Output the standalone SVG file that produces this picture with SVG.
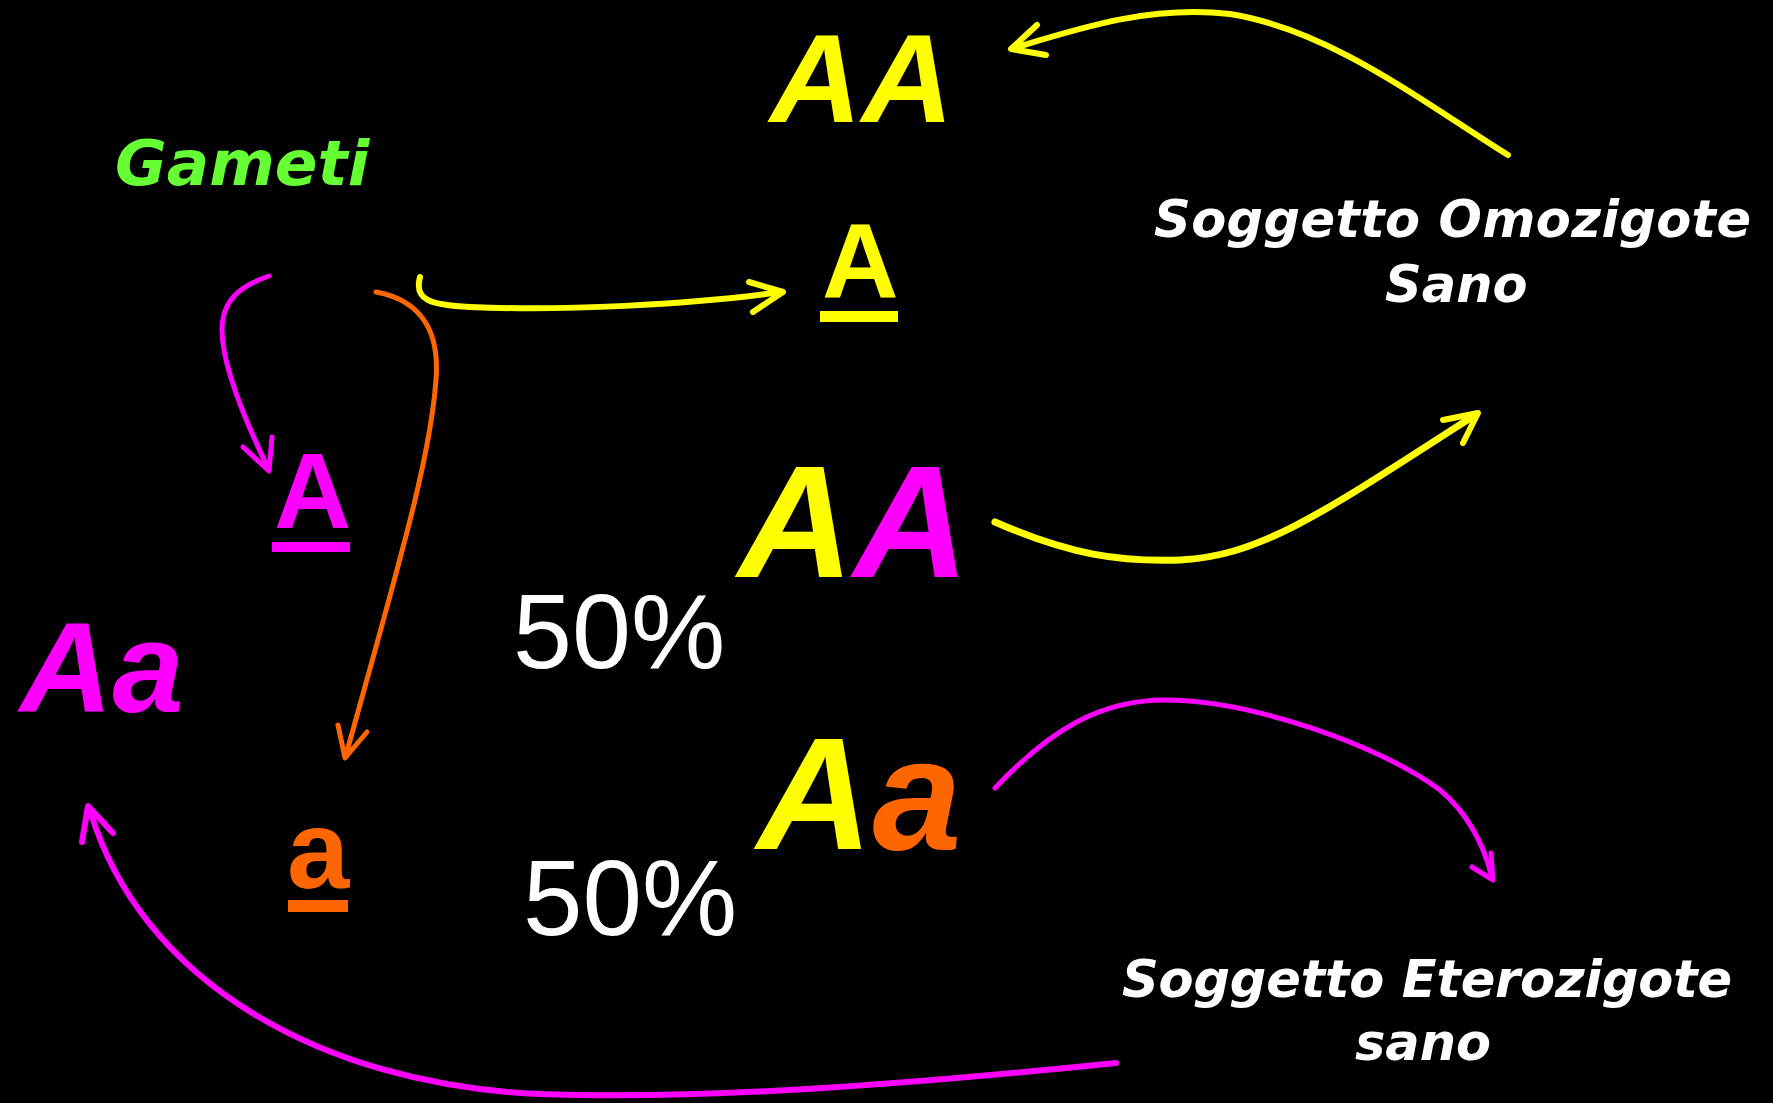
<svg xmlns="http://www.w3.org/2000/svg" width="1773" height="1103" viewBox="0 0 1773 1103">
<style>
.big{font-family:"Liberation Sans",Arial,sans-serif;font-weight:bold;font-style:italic}
.up{font-family:"Liberation Sans",Arial,sans-serif;font-weight:bold}
.pct{font-family:"Liberation Sans",Arial,sans-serif;fill:#FFFFFF}
.lbl{font-family:"DejaVu Sans",Verdana,sans-serif;font-weight:bold;font-style:italic;fill:#FFFFFF}
.y{fill:#FFFF00}.m{fill:#FF00FF}.o{fill:#FF6600}
.c{fill:none;stroke-linecap:round;stroke-linejoin:round}
.cy{stroke:#FFFF00}.cm{stroke:#FF00FF}.co{stroke:#FF6600}
</style>
<rect width="1773" height="1103" fill="#000000"/>
<g id="gameti"><text x="115" y="185" font-family="DejaVu Sans, Verdana, sans-serif" font-weight="bold" font-style="italic" font-size="63" fill="#66FF33">Gameti</text></g>
<g id="AA-top"><text class="big y" x="770" y="122" font-size="127">AA</text></g>
<g id="A-yellow"><text class="up y" x="822" y="298" font-size="106">A</text><rect class="y" x="820" y="311" width="78" height="11"/></g>
<g id="A-magenta"><text class="up m" x="274" y="528" font-size="107">A</text><rect class="m" x="272" y="542" width="78" height="10"/></g>
<g id="a-orange"><text class="up o" x="287" y="888" font-size="112">a</text><rect class="o" x="288" y="900" width="60" height="12"/></g>
<g id="Aa-parent"><text class="big m" x="20" y="712" font-size="128">Aa</text></g>
<g id="AA-child"><text class="big" x="738" y="577" font-size="160"><tspan class="y">A</tspan><tspan class="m">A</tspan></text></g>
<g id="Aa-child"><text class="big" x="757" y="849" font-size="160"><tspan class="y">A</tspan><tspan class="o">a</tspan></text></g>
<g id="pct-1"><text class="pct" x="513" y="668" font-size="106">50%</text></g>
<g id="pct-2"><text class="pct" x="523" y="935" font-size="107">50%</text></g>
<g id="label-omo"><text class="lbl" font-size="51"><tspan x="1154" y="237" textLength="597" lengthAdjust="spacing">Soggetto Omozigote</tspan><tspan x="1385" y="302">Sano</tspan></text></g>
<g id="label-etero"><text class="lbl" font-size="51"><tspan x="1122" y="997" textLength="610" lengthAdjust="spacing">Soggetto Eterozigote</tspan><tspan x="1355" y="1060">sano</tspan></text></g>
<g id="connectors">
<path class="c cy" stroke-width="6" d="M420,277 C414,300 430,305 470,307 C560,311 690,305 781,292"/>
<polyline class="c cy" stroke-width="6" points="749,282 783,292 753,312"/>
<path class="c cm" stroke-width="5" d="M269,276 C240,286 222,300 222,330 C222,360 240,410 268,468"/>
<polyline class="c cm" stroke-width="5" points="243,447 269,471 272,437"/>
<path class="c co" stroke-width="5" d="M376,292 C420,300 440,330 436,380 C430,460 400,560 346,755"/>
<polyline class="c co" stroke-width="5" points="338,725 345,758 367,732"/>
<path class="c cy" stroke-width="6" d="M1508,155 C1420,100 1330,30 1230,14 C1150,5 1080,28 1014,48"/>
<polyline class="c cy" stroke-width="6" points="1037,25 1011,49 1046,55"/>
<path class="c cy" stroke-width="7" d="M995,522 C1070,555 1120,562 1180,560 C1260,556 1320,515 1475,415"/>
<polyline class="c cy" stroke-width="6" points="1443,420 1478,413 1463,443"/>
<path class="c cm" stroke-width="5" d="M995,788 C1050,730 1100,700 1165,700 C1250,700 1380,745 1440,790 C1470,815 1485,850 1492,877"/>
<polyline class="c cm" stroke-width="5" points="1472,867 1493,880 1491,853"/>
<path class="c cm" stroke-width="6" d="M1116,1063 C900,1085 700,1100 540,1094 C320,1085 140,980 90,810"/>
<polyline class="c cm" stroke-width="6" points="82,842 88,806 113,833"/>
</g>
</svg>
